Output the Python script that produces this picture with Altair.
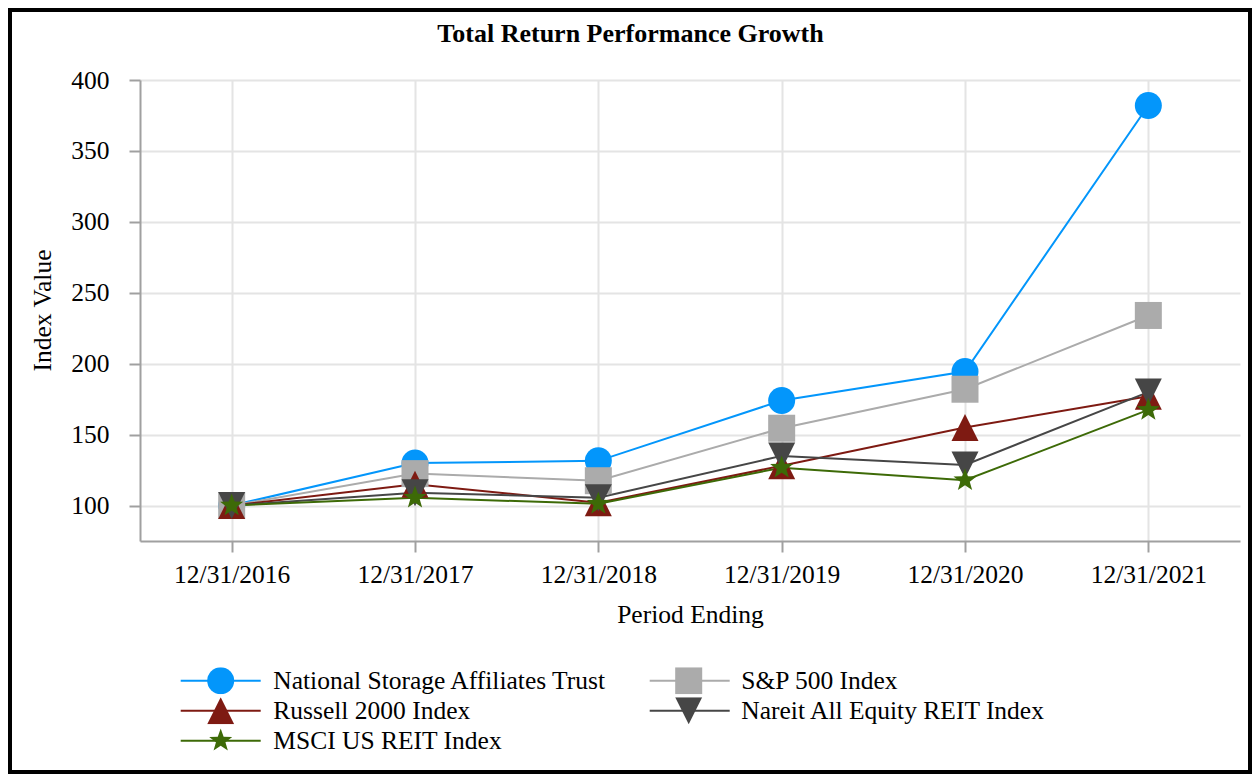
import math
import altair as alt
import pandas as pd

# ---------------- data ----------------
dates = ["12/31/2016", "12/31/2017", "12/31/2018", "12/31/2019", "12/31/2020", "12/31/2021"]
series_names = [
    "National Storage Affiliates Trust",
    "S&P 500 Index",
    "Russell 2000 Index",
    "Nareit All Equity REIT Index",
    "MSCI US REIT Index",
]
nsa = [100, 130, 131.5, 174, 194.5, 382]
sp500 = [100, 122.5, 117.5, 154.5, 182, 234]
russell = [100, 115, 102, 128, 155, 177]
nareit = [100, 109, 105.5, 135, 128.6, 180]
msci = [100, 105.5, 101.2, 126.7, 117.8, 167.4]
y_ticks = [100, 150, 200, 250, 300, 350, 400]
chart_title = "Total Return Performance Growth"
x_title = "Period Ending"
y_title = "Index Value"

colors = ["#0396fb", "#ababab", "#7e1a12", "#464646", "#3d6a07"]


def star_path(R=0.9, r=0.37):
    pts = []
    for k in range(10):
        ang = math.radians(-90 + 36 * k)
        rad = R if k % 2 == 0 else r
        pts.append(f"{rad * math.cos(ang):.3f},{rad * math.sin(ang):.3f}")
    return "M" + "L".join(pts) + "Z"


shapes = ["circle", "square", "M0,-1L1,1L-1,1Z", "M-1,-1L1,-1L0,1Z", star_path()]

rows = []
for name, vals in zip(series_names, [nsa, sp500, russell, nareit, msci]):
    for d, v in zip(dates, vals):
        rows.append({"date": d, "value": v, "series": name, "series_l": name})
df = pd.DataFrame(rows)

FONT = "Liberation Serif"
FS = 25.5
AXIS_GRAY = "#a0a0a0"
GRID = "#e4e4e4"

x_enc = alt.X(
    "date:O",
    sort=dates,
    scale=alt.Scale(type="point", padding=0.5),
    axis=alt.Axis(
        title=x_title,
        titleFont=FONT, titleFontSize=FS, titleFontWeight="normal", titleColor="black",
        titleBaseline="alphabetic", titleX=550, titleY=81.3,
        labelFont=FONT, labelFontSize=FS, labelColor="black", labelAngle=0,
        labelPadding=10,
        tickSize=11, tickColor=AXIS_GRAY, tickWidth=2,
        domainColor=AXIS_GRAY, domainWidth=2,
        grid=True, gridColor=GRID, gridWidth=2,
    ),
)
y_enc = alt.Y(
    "value:Q",
    scale=alt.Scale(domain=[75, 400], nice=False, zero=False),
    axis=alt.Axis(
        title=y_title, values=y_ticks,
        titleFont=FONT, titleFontSize=FS, titleFontWeight="normal", titleColor="black",
        titleAngle=270, titleBaseline="alphabetic", titleAlign="center",
        titleX=-90, titleY=230,
        labelFont=FONT, labelFontSize=FS, labelColor="black",
        labelPadding=20,
        tickSize=11, tickColor=AXIS_GRAY, tickWidth=2,
        domainColor=AXIS_GRAY, domainWidth=2,
        grid=True, gridColor=GRID, gridWidth=2,
    ),
)

LEG_X = 39.7
LEG_Y = 587.2
ROWPAD = 3

stroke_legend = alt.Legend(
    title=None, orient="none", legendX=LEG_X, legendY=LEG_Y, direction="horizontal",
    columns=2, columnPadding=375, rowPadding=ROWPAD, padding=0,
    symbolType="stroke", symbolSize=6400, symbolStrokeWidth=2,
    labelFont=FONT, labelFontSize=FS, labelOffset=11.6, labelExpr="''", labelLimit=0,
    clipHeight=27, zindex=0,
)
shape_legend = alt.Legend(
    title=None, orient="none", legendX=LEG_X, legendY=LEG_Y, direction="horizontal",
    columns=2, columnPadding=40, rowPadding=ROWPAD, padding=0,
    symbolSize=729, symbolStrokeWidth=0, symbolOffset=27.5, symbolOpacity=1,
    labelFont=FONT, labelFontSize=FS, labelColor="black", labelOffset=39.1, labelLimit=0,
    clipHeight=27, zindex=1,
)

lines = alt.Chart(df).mark_line(strokeWidth=2).encode(
    x=x_enc,
    y=y_enc,
    stroke=alt.Stroke("series_l:N", sort=series_names,
                      scale=alt.Scale(range=colors), legend=stroke_legend),
)

points = alt.Chart(df).mark_point(filled=True, opacity=1, size=729, strokeWidth=0).encode(
    x=x_enc,
    y=y_enc,
    color=alt.Color("series:N", scale=alt.Scale(domain=series_names, range=colors),
                    legend=shape_legend),
    shape=alt.Shape("series:N", scale=alt.Scale(domain=series_names, range=shapes),
                    legend=shape_legend),
)

title = alt.Chart(alt.Data(values=[{"t": chart_title}])).mark_text(
    font=FONT, fontSize=26, fontWeight="bold", align="center",
    baseline="alphabetic", color="black",
).encode(text="t:N", x=alt.value(490.5), y=alt.value(-38.3))

border = alt.Chart(alt.Data(values=[{"b": 1}])).mark_rect(
    fill="white", fillOpacity=0, stroke="black", strokeWidth=4,
).encode(x=alt.value(-130), x2=alt.value(1110), y=alt.value(-70), y2=alt.value(692))

chart = alt.layer(border, lines, points, title).properties(
    width=1100,
    height=461,
    padding={"left": 132, "top": 72, "right": 12, "bottom": 233},
    autosize=alt.AutoSizeParams(type="none"),
    background="white",
).configure_view(stroke=None)

chart.save("out.html", embed_options={"renderer": "svg", "actions": False})
